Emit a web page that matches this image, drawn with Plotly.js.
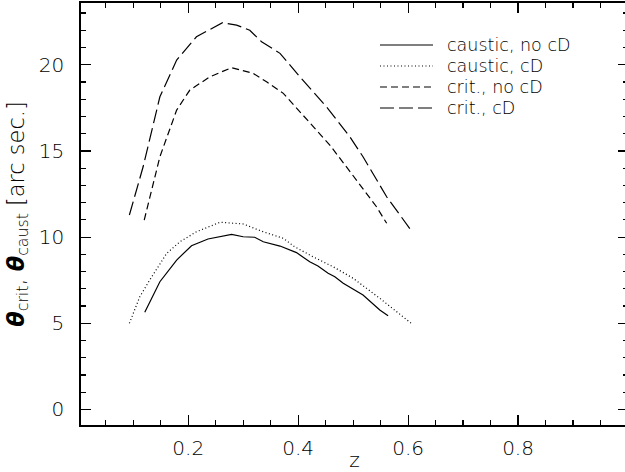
<!DOCTYPE html>
<html>
<head>
<meta charset="utf-8">
<script src="https://cdn.plot.ly/plotly-3.0.1.min.js"></script>
<style>
html,body{margin:0;padding:0;overflow:hidden;background:#fff;}
#chart{width:630px;height:472px;}
</style>
</head>
<body>
<div id="chart"></div>
<script>
// caustic, no cD (solid)
const causticNoCD_z = [0.121,0.1485,0.179,0.206,0.236,0.2545,0.279,0.300,0.321,0.3365,0.367,0.397,0.421,0.436,0.4545,0.4667,0.482,0.518,0.5485,0.5636];
const causticNoCD_t = [5.64,7.41,8.67,9.50,9.89,10.02,10.16,10.02,9.99,9.73,9.48,9.10,8.57,8.32,7.90,7.70,7.32,6.64,5.77,5.44];
// caustic, cD (dotted)
const causticCD_z = [0.093,0.112,0.130,0.161,0.185,0.215,0.258,0.300,0.3365,0.373,0.3935,0.427,0.4636,0.500,0.5485,0.608];
const causticCD_t = [5.00,6.54,7.51,9.06,9.73,10.31,10.86,10.76,10.31,9.93,9.44,8.86,8.28,7.61,6.45,4.94];
// crit., no cD (short dash)
const critNoCD_z = [0.120,0.1485,0.179,0.203,0.2395,0.279,0.318,0.3425,0.373,0.409,0.4576,0.506,0.5425,0.561];
const critNoCD_t = [10.99,14.66,17.37,18.53,19.30,19.83,19.50,19.01,18.34,17.08,15.34,13.31,11.76,10.80];
// crit., cD (long dash)
const critCD_z = [0.093,0.118,0.1485,0.179,0.215,0.2625,0.288,0.312,0.3335,0.367,0.403,0.4515,0.494,0.518,0.561,0.605];
const critCD_t = [11.28,14.08,18.14,20.27,21.62,22.44,22.30,22.00,21.33,20.66,19.30,17.56,15.82,14.66,12.34,10.41];

const legendLabels = ["caustic, no cD","caustic, cD","crit., no cD","crit., cD"];
const xTickVals = [0.2,0.4,0.6,0.8];
const xTickText = ["0.2","0.4","0.6","0.8"];
const yTickVals = [0,5,10,15,20];
const yTickText = ["0","5","10","15","20"];

const FONT = "DejaVu Sans, sans-serif";
const dashes = ["solid","1px,2.5px","7px,4px","14px,5px"];
const series = [
  [causticNoCD_z, causticNoCD_t],
  [causticCD_z, causticCD_t],
  [critNoCD_z, critNoCD_t],
  [critCD_z, critCD_t]
];

const traces = series.map((s,i)=>({
  x: s[0], y: s[1], type:'scatter', mode:'lines', name: legendLabels[i],
  line:{color:'#000', width:1.2, dash:dashes[i]}, showlegend:false
}));

const legX0 = 0.5466, legX1 = 0.6435, legTX = 0.667;
const legY = [0.9005,0.8507,0.801,0.7512];
const shapes = [], annotations = [];
legendLabels.forEach((lab,i)=>{
  shapes.push({type:'line', xref:'paper', yref:'paper', x0:legX0, x1:legX1, y0:legY[i], y1:legY[i],
    line:{color:'#000', width:1.2, dash:dashes[i]}});
  annotations.push({xref:'paper', yref:'paper', x:legTX, y:legY[i], xanchor:'left', yanchor:'middle',
    text:lab, showarrow:false, borderpad:0, font:{family:FONT, size:17.5, color:'#000', weight:200}});
});

const axisCommon = {
  showgrid:false, zeroline:false, showline:true, linecolor:'#000', linewidth:1.8,
  mirror:'allticks', ticks:'inside', tickcolor:'#000', tickwidth:1.2, ticklen:10,
  tickfont:{family:FONT, size:20, color:'#000', weight:200}
};

const layout = {
  width:630, height:472,
  margin:{l:81, r:2, t:3, b:47},
  paper_bgcolor:'#fff', plot_bgcolor:'#fff',
  font:{family:FONT, color:'#000'},
  xaxis: Object.assign({}, axisCommon, {
    range:[0.005,1.0], tickmode:'array', tickvals:xTickVals, ticktext:xTickText,
    ticklabelstandoff:4,
    minor:{dtick:0.05, tick0:0, ticks:'inside', ticklen:5, tickcolor:'#000', tickwidth:1.2, showgrid:false},
    title:{text:'z', font:{family:FONT, size:20, color:'#000', weight:200}, standoff:4}
  }),
  yaxis: Object.assign({}, axisCommon, {
    range:[-0.9,23.58], tickmode:'array', tickvals:yTickVals, ticktext:yTickText,
    ticklabelstandoff:11,
    minor:{dtick:1, tick0:0, ticks:'inside', ticklen:5, tickcolor:'#000', tickwidth:1.2, showgrid:false},
    title:{text:'<b><i>θ</i></b><sub>crit</sub>, <b><i>θ</i></b><sub>caust</sub> [arc sec.]', font:{family:FONT, size:22.5, color:'#000', weight:200}, standoff:8}
  }),
  shapes: shapes,
  annotations: annotations
};

Plotly.newPlot('chart', traces, layout, {staticPlot:true, displayModeBar:false});
</script>
</body>
</html>
